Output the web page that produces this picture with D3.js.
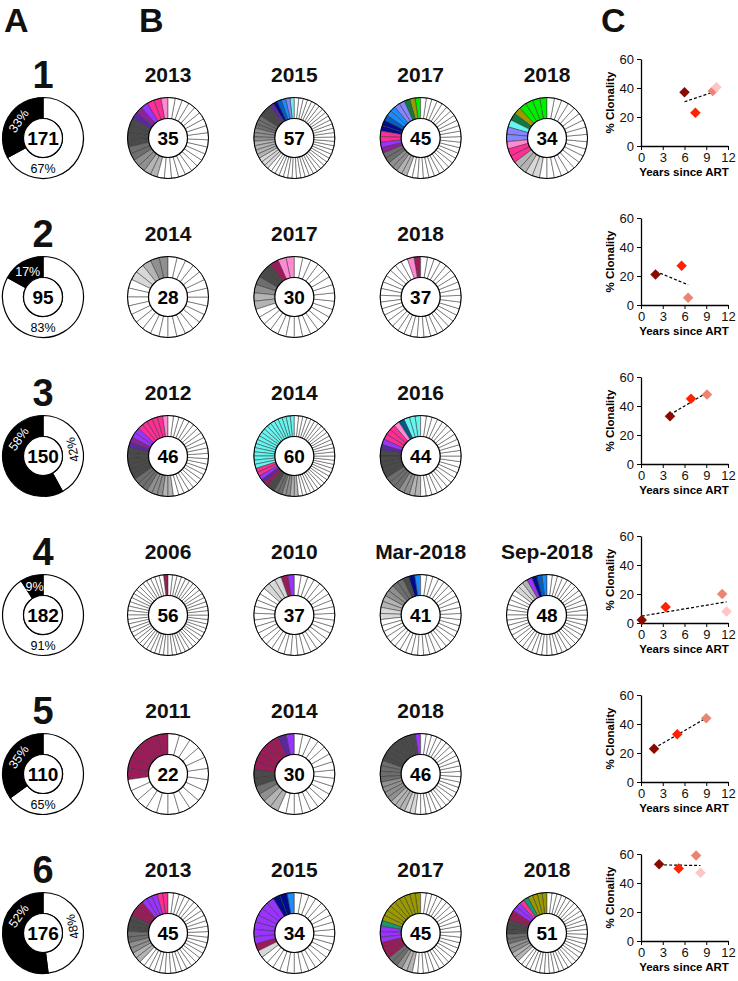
<!DOCTYPE html>
<html>
<head>
<meta charset="utf-8">
<script src="https://d3js.org/d3.v7.min.js"></script>
<style>
  body { margin: 0; background: #fff; }
  svg text { font-family: "Liberation Sans", Arial, sans-serif; }
</style>
</head>
<body>
<script>
// ---- panel A: all sequences per participant
var participants = ["1", "2", "3", "4", "5", "6"];
var totalSeqs = [171, 95, 150, 182, 110, 176];
var clonalPct = [33, 17, 58, 9, 35, 52];

// ---- panel B: sequences per timepoint
var timepoints = [
  ["2013", "2015", "2017", "2018"],
  ["2014", "2017", "2018"],
  ["2012", "2014", "2016"],
  ["2006", "2010", "Mar-2018", "Sep-2018"],
  ["2011", "2014", "2018"],
  ["2013", "2015", "2017", "2018"]
];
var seqCounts = [
  [35, 57, 45, 34],
  [28, 30, 37],
  [46, 60, 44],
  [56, 37, 41, 48],
  [22, 30, 46],
  [45, 34, 45, 51]
];
// clone runs going counter-clockwise from 12 o'clock: [clone, number of sequences]
// sequences not listed are unique (white)
var cloneRuns = [
  [
    [["lp",1],["hp",2],["vi",1],["mp",1],["dp",1],["g1",4],["g2",2],["g3",2],["g4",2]],
    [["cy",1],["lv",1],["db",1],["bl",1],["nv",1],["dp",1],["g1",3],["g2",3],["g3",3],["g4",4],["g5",3]],
    [["gr",1],["ol",1],["dg",1],["lv",2],["db",2],["bl",1],["nv",2],["hp",2],["vi",1],["mp",1],["g2",2],["g3",2],["g4",2]],
    [["gr",4],["ol",1],["dg",1],["cy",1],["lv",2],["lp",1],["hp",2],["g4",2],["g5",2]]
  ],
  [
    [["g3",2],["g4",1],["g5",2]],
    [["lp",2],["mg",1],["g1",2],["g2",1],["g3",1],["g4",2]],
    [["mg",1],["lp",1]]
  ],
  [
    [["lp",1],["hp",5],["vi",2],["mp",1],["dp",1],["g1",6],["g2",3],["g3",3],["g4",2]],
    [["cy",18],["hp",2],["vi",1],["dp",1],["mg",1],["g1",2],["g2",2],["g3",2],["g4",2]],
    [["cy",3],["tb",1],["lp",1],["hp",3],["vi",1],["dp",1],["g1",5],["g2",3],["g3",2],["g4",2]]
  ],
  [
    [["mg",1]],
    [["vi",1],["mg",1],["g5",3]],
    [["db",1],["nv",1],["g1",1],["g2",2],["g3",2],["g4",2],["g5",2]],
    [["db",1],["bl",1],["nv",1],["vi",1],["g4",1],["g5",2]]
  ],
  [
    [["mg",6]],
    [["vi",1],["dp",1],["mg",5],["g1",2],["g2",1],["g3",1],["g4",2]],
    [["vi",1],["g1",8],["g2",4],["g3",4],["g4",3],["g5",2]]
  ],
  [
    [["hp",2],["vi",3],["mg",3],["g1",3],["g2",2],["g3",2],["g4",2]],
    [["db",1],["nv",2],["vi",7],["mg",1],["g5",1]],
    [["ol",9],["tl",1],["vi",3],["mg",3],["g2",2],["g3",1],["g4",2]],
    [["ol",4],["tl",1],["hp",1],["vi",2],["mg",2],["g1",3],["g2",2],["g3",2],["g4",2]]
  ]
];

// ---- panel C: % clonality vs years since ART (one entry per timepoint)
var yearsSinceART = [
  [6.0, 7.5, 9.9, 10.4],
  [2.0, 5.6, 6.5],
  [4.0, 6.9, 9.1],
  [0.1, 3.4, 11.2, 11.8],
  [1.8, 5.0, 9.0],
  [2.5, 5.2, 7.6, 8.2]
];
var pctClonality = [
  [37, 23, 38, 40.5],
  [21, 27, 5],
  [33, 45, 48],
  [2, 11, 20, 8],
  [23, 33, 44],
  [53, 50, 59, 47]
];
var xTicks = [0, 3, 6, 9, 12];
var yTicks = [0, 20, 40, 60];

var palette = {
  lp: "#ff8ad2", hp: "#ff2e96", vi: "#9a33ff", mp: "#8c2399", dp: "#5a2a9c", mg: "#9c1c5a",
  cy: "#66f5f0", lv: "#8585ff", db: "#1a8cff", bl: "#0060c8", nv: "#000c8c", tb: "#005a8a",
  gr: "#00ee00", ol: "#9a9a00", dg: "#107a40", tl: "#129a73",
  g1: "#4a4a4a", g2: "#6e6e6e", g3: "#909090", g4: "#b4b4b4", g5: "#d8d8d8", u: "#ffffff"
};
var timeColors = ["#8b0a00", "#ff2200", "#ec8473", "#ffc4c4"];

var W = 738, H = 981;
var svg = d3.select("body").append("svg").attr("width", W).attr("height", H);

var rowY = d3.scaleLinear().domain([0, 5]).range([138, 933]);
var colX = d3.scaleLinear().domain([0, 3]).range([168, 547]);
var ax = 43;
var rOut = 40.5, rIn = 19.5;

// panel letters
[["A", 4], ["B", 139], ["C", 601]].forEach(function(p) {
  svg.append("text").attr("x", p[1]).attr("y", 32)
    .attr("font-size", 34).attr("font-weight", "bold").attr("fill", "#111").text(p[0]);
});

var arc = d3.arc().innerRadius(rIn).outerRadius(rOut);

function expand(runs, total) {
  var out = [];
  runs.forEach(function(r) { for (var k = 0; k < r[1]; k++) out.push(r[0]); });
  while (out.length < total) out.push("u");
  return out;
}

participants.forEach(function(pid, i) {
  var cy = rowY(i);

  // ---- A
  svg.append("text").attr("x", ax).attr("y", cy - 50).attr("text-anchor", "middle")
    .attr("font-size", 38).attr("font-weight", "bold").attr("fill", "#111").text(pid);

  var ga = svg.append("g").attr("transform", "translate(" + ax + "," + cy + ")");
  var p = clonalPct[i];
  var pie = d3.pie().sort(null).value(function(d) { return d.v; });
  var parts = pie([{ k: "u", v: 100 - p }, { k: "c", v: p }]);
  ga.selectAll("path").data(parts).join("path")
    .attr("d", arc)
    .attr("fill", function(d) { return d.data.k == "c" ? "#000" : "#fff"; })
    .attr("stroke", "#000").attr("stroke-width", 1.2);
  ga.append("circle").attr("r", rIn).attr("fill", "#fff").attr("stroke", "#000").attr("stroke-width", 1.2);
  ga.append("text").attr("text-anchor", "middle").attr("dy", "0.36em")
    .attr("font-size", 19).attr("font-weight", "bold").text(totalSeqs[i]);

  parts.forEach(function(d) {
    var mid = (d.startAngle + d.endAngle) / 2;
    var deg, rot;
    if (d.data.k == "c") {
      deg = mid * 180 / Math.PI - 360;
      if (deg < -55) deg = -55;
      rot = p >= 25 ? deg : 0;
    } else if (d.data.v > 60) {
      deg = 180; rot = 0;
    } else {
      deg = 78; rot = deg - 180;
    }
    var a = deg * Math.PI / 180, rr = (rIn + rOut) / 2;
    ga.append("text")
      .attr("transform", "translate(" + (rr * Math.sin(a)) + "," + (-rr * Math.cos(a)) + ") rotate(" + rot + ")")
      .attr("text-anchor", "middle").attr("dy", "0.36em")
      .attr("font-size", 12.5)
      .attr("fill", d.data.k == "c" ? "#fff" : "#000")
      .text(d.data.v + "%");
  });

  // ---- B
  timepoints[i].forEach(function(tp, j) {
    var cx = colX(j);
    svg.append("text").attr("x", cx).attr("y", cy - 56).attr("text-anchor", "middle")
      .attr("font-size", 21).attr("font-weight", "bold").attr("fill", "#111").text(tp);
    var gb = svg.append("g").attr("transform", "translate(" + cx + "," + cy + ")");
    var segs = expand(cloneRuns[i][j], seqCounts[i][j]);
    var ang = d3.scaleLinear().domain([0, segs.length]).range([0, -2 * Math.PI]);
    gb.selectAll("path").data(segs).join("path")
      .attr("d", function(d, k) { return arc({ startAngle: ang(k + 1), endAngle: ang(k) }); })
      .attr("fill", function(d) { return palette[d]; })
      .attr("stroke", "#333").attr("stroke-width", 0.5);
    gb.append("circle").attr("r", rOut).attr("fill", "none").attr("stroke", "#000").attr("stroke-width", 1);
    gb.append("circle").attr("r", rIn).attr("fill", "#fff").attr("stroke", "#000").attr("stroke-width", 1.2);
    gb.append("text").attr("text-anchor", "middle").attr("dy", "0.36em")
      .attr("font-size", 19).attr("font-weight", "bold").text(seqCounts[i][j]);
  });

  // ---- C
  var top = cy - 79, bot = cy + 8;
  var x = d3.scaleLinear().domain([0, 12]).range([641, 728]);
  var y = d3.scaleLinear().domain([0, 60]).range([bot, top]);
  var gc = svg.append("g");
  gc.append("g").attr("transform", "translate(641,0)")
    .call(d3.axisLeft(y).tickValues(yTicks).tickSize(4).tickSizeOuter(0))
    .call(function(s) {
      s.select(".domain").attr("stroke-width", 1.3);
      s.selectAll("text").attr("font-size", 13).attr("font-family", "Liberation Sans, Arial, sans-serif").attr("fill", "#111");
    });
  gc.append("g").attr("transform", "translate(0," + bot + ")")
    .call(d3.axisBottom(x).tickValues(xTicks).tickSize(4).tickSizeOuter(0))
    .call(function(s) {
      s.select(".domain").attr("stroke-width", 1.3);
      s.selectAll("text").attr("font-size", 13).attr("font-family", "Liberation Sans, Arial, sans-serif").attr("fill", "#111");
    });
  gc.append("text").attr("transform", "translate(614," + (top + bot) / 2 + ") rotate(-90)")
    .attr("text-anchor", "middle").attr("font-size", 11.5).attr("font-weight", "bold").text("% Clonality");
  gc.append("text").attr("x", 684).attr("y", bot + 30).attr("text-anchor", "middle")
    .attr("font-size", 11.5).attr("font-weight", "bold").text("Years since ART");

  var xs = yearsSinceART[i], ys = pctClonality[i];
  var pts = xs.map(function(v, k) { return [v, ys[k]]; });
  var mx = d3.mean(xs), my = d3.mean(ys);
  var sxy = d3.sum(pts, function(d) { return (d[0] - mx) * (d[1] - my); });
  var sxx = d3.sum(xs, function(v) { return (v - mx) * (v - mx); });
  var slope = sxy / sxx, icpt = my - slope * mx;
  var x0 = d3.min(xs), x1 = d3.max(xs);
  gc.append("line")
    .attr("x1", x(x0)).attr("y1", y(icpt + slope * x0))
    .attr("x2", x(x1)).attr("y2", y(icpt + slope * x1))
    .attr("stroke", "#000").attr("stroke-width", 1.2).attr("stroke-dasharray", "3,2");
  gc.selectAll("path.pt").data(pts).join("path").attr("class", "pt")
    .attr("d", d3.symbol().type(d3.symbolSquare).size(55))
    .attr("transform", function(d) { return "translate(" + x(d[0]) + "," + y(d[1]) + ") rotate(45)"; })
    .attr("fill", function(d, k) { return timeColors[k]; });
});
</script>
</body>
</html>
